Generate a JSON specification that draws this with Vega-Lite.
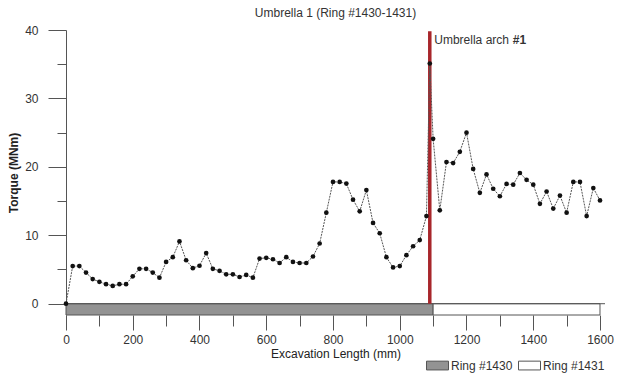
{
  "$schema": "https://vega.github.io/schema/vega-lite/v6.json",
  "width": 539,
  "height": 285,
  "autosize": {"type": "none"},
  "padding": {"left": 66, "top": 30, "right": 14, "bottom": 66},
  "background": "white",
  "title": {"text": "Umbrella 1 (Ring #1430-1431)", "fontSize": 12, "fontWeight": "normal", "color": "#333", "anchor": "middle", "frame": "group", "offset": 4},
  "config": {"view": {"stroke": null}, "font": "Liberation Sans", "axis": {"grid": false, "labelColor": "#333", "titleColor": "#222", "tickColor": "#555", "domainColor": "#555"}},
  "datasets": {
    "torque": [
      {"length": 0, "torque": 0}, {"length": 20, "torque": 5.5}, {"length": 40, "torque": 5.5}, {"length": 60, "torque": 4.55},
      {"length": 80, "torque": 3.6}, {"length": 100, "torque": 3.2}, {"length": 120, "torque": 2.85}, {"length": 140, "torque": 2.6},
      {"length": 160, "torque": 2.85}, {"length": 180, "torque": 2.85}, {"length": 200, "torque": 4.0}, {"length": 220, "torque": 5.1},
      {"length": 240, "torque": 5.1}, {"length": 260, "torque": 4.55}, {"length": 280, "torque": 3.8}, {"length": 300, "torque": 6.1},
      {"length": 320, "torque": 6.8}, {"length": 340, "torque": 9.1}, {"length": 360, "torque": 6.35}, {"length": 380, "torque": 5.2},
      {"length": 400, "torque": 5.55}, {"length": 420, "torque": 7.4}, {"length": 440, "torque": 5.1}, {"length": 460, "torque": 4.8},
      {"length": 480, "torque": 4.3}, {"length": 500, "torque": 4.3}, {"length": 520, "torque": 3.9}, {"length": 540, "torque": 4.2},
      {"length": 560, "torque": 3.8}, {"length": 580, "torque": 6.6}, {"length": 600, "torque": 6.7}, {"length": 620, "torque": 6.5},
      {"length": 640, "torque": 5.95}, {"length": 660, "torque": 6.8}, {"length": 680, "torque": 6.1}, {"length": 700, "torque": 5.95},
      {"length": 720, "torque": 5.95}, {"length": 740, "torque": 6.9}, {"length": 760, "torque": 8.8}, {"length": 780, "torque": 13.3},
      {"length": 800, "torque": 17.8}, {"length": 820, "torque": 17.8}, {"length": 840, "torque": 17.55}, {"length": 860, "torque": 15.2},
      {"length": 880, "torque": 13.5}, {"length": 900, "torque": 16.6}, {"length": 920, "torque": 11.8}, {"length": 940, "torque": 10.3},
      {"length": 960, "torque": 6.8}, {"length": 980, "torque": 5.3}, {"length": 1000, "torque": 5.5}, {"length": 1020, "torque": 7.1},
      {"length": 1040, "torque": 8.4}, {"length": 1060, "torque": 9.3}, {"length": 1080, "torque": 12.8}, {"length": 1090, "torque": 35.1},
      {"length": 1100, "torque": 24.1}, {"length": 1120, "torque": 13.65}, {"length": 1140, "torque": 20.7}, {"length": 1160, "torque": 20.55},
      {"length": 1180, "torque": 22.2}, {"length": 1200, "torque": 25.0}, {"length": 1220, "torque": 19.7}, {"length": 1240, "torque": 16.2},
      {"length": 1260, "torque": 18.9}, {"length": 1280, "torque": 16.8}, {"length": 1300, "torque": 15.7}, {"length": 1320, "torque": 17.5},
      {"length": 1340, "torque": 17.4}, {"length": 1360, "torque": 19.1}, {"length": 1380, "torque": 18.1}, {"length": 1400, "torque": 17.4},
      {"length": 1420, "torque": 14.6}, {"length": 1440, "torque": 16.4}, {"length": 1460, "torque": 13.9}, {"length": 1480, "torque": 15.8},
      {"length": 1500, "torque": 13.3}, {"length": 1520, "torque": 17.8}, {"length": 1540, "torque": 17.8}, {"length": 1560, "torque": 12.8},
      {"length": 1580, "torque": 16.9}, {"length": 1600, "torque": 15.1}
    ],
    "rings": [
      {"ring": "Ring #1430", "start": 0, "end": 1100},
      {"ring": "Ring #1431", "start": 1100, "end": 1600}
    ],
    "arch": [
      {"label": "Umbrella arch", "num": "#1", "at": 1090}
    ]
  },
  "layer": [
    {
      "data": {"name": "rings"},
      "mark": {"type": "rect", "stroke": "#555", "strokeWidth": 1},
      "encoding": {
        "x": {"field": "start", "type": "quantitative", "scale": {"domain": [0, 1615], "nice": false, "zero": false},
              "axis": {"orient": "bottom", "values": [0, 200, 400, 600, 800, 1000, 1200, 1400, 1600], "format": "d", "tickSize": 15, "domain": false, "labelFontSize": 12, "labelPadding": 4, "labelFlush": false, "labelOverlap": false, "title": "Excavation Length (mm)", "titleFontSize": 12, "titleFontWeight": "normal", "titlePadding": 3}},
        "x2": {"field": "end"},
        "y": {"datum": 0, "type": "quantitative", "scale": {"domain": [-1.65, 40], "nice": false, "zero": false},
              "axis": {"orient": "left", "values": [0, 10, 20, 30, 40], "tickSize": 18, "domain": true, "labelFontSize": 12, "labelPadding": 10, "title": "Torque (MNm)", "titleFontSize": 12, "titleFontWeight": "bold", "titlePadding": 4}},
        "y2": {"datum": -1.65},
        "fill": {"field": "ring", "type": "nominal", "scale": {"domain": ["Ring #1430", "Ring #1431"], "range": ["#939393", "#ffffff"]},
                 "legend": {"orient": "none", "legendX": 360, "legendY": 324, "direction": "horizontal", "title": null, "symbolType": "M-1,-0.4H1V0.4H-1Z", "symbolSize": 484, "symbolStrokeColor": "#555", "symbolStrokeWidth": 1, "labelFontSize": 12, "labelColor": "#333", "labelOffset": 2, "columnPadding": 3}}
      }
    },
    {
      "data": {"name": "arch"},
      "mark": {"type": "rule", "color": "#555", "strokeWidth": 1},
      "encoding": {
        "y": {"datum": 0, "type": "quantitative", "axis": null}
      }
    },
    {
      "data": {"name": "arch"},
      "mark": {"type": "rule", "color": "#a8262b", "strokeWidth": 3.5},
      "encoding": {
        "x": {"field": "at", "type": "quantitative", "axis": null},
        "y": {"datum": 0, "type": "quantitative", "axis": null},
        "y2": {"datum": 39.8}
      }
    },
    {
      "data": {"name": "torque"},
      "mark": {"type": "line", "color": "#555", "strokeWidth": 1, "strokeDash": [2, 1]},
      "encoding": {
        "x": {"field": "length", "type": "quantitative",
              "axis": {"orient": "bottom", "values": [100, 300, 500, 700, 900, 1100, 1300, 1500], "tickSize": 11, "domain": false, "labels": false, "title": null}},
        "y": {"field": "torque", "type": "quantitative",
              "axis": {"orient": "left", "values": [5, 15, 25, 35], "tickSize": 9, "domain": false, "labels": false, "title": null}}
      }
    },
    {
      "data": {"name": "torque"},
      "mark": {"type": "point", "filled": true, "color": "#111", "size": 22, "opacity": 1},
      "encoding": {
        "x": {"field": "length", "type": "quantitative", "axis": null},
        "y": {"field": "torque", "type": "quantitative", "axis": null}
      }
    },
    {
      "data": {"name": "arch"},
      "mark": {"type": "text", "align": "left", "baseline": "middle", "dx": 4.5, "fontSize": 12, "color": "#333"},
      "encoding": {
        "x": {"field": "at", "type": "quantitative", "axis": null},
        "y": {"datum": 38.6, "type": "quantitative", "axis": null},
        "text": {"field": "label"}
      }
    },
    {
      "data": {"name": "arch"},
      "mark": {"type": "text", "align": "left", "baseline": "middle", "dx": 83, "fontSize": 12, "fontWeight": "bold", "color": "#333"},
      "encoding": {
        "x": {"field": "at", "type": "quantitative", "axis": null},
        "y": {"datum": 38.6, "type": "quantitative", "axis": null},
        "text": {"field": "num"}
      }
    }
  ],
  "resolve": {"axis": {"x": "independent", "y": "independent"}}
}
